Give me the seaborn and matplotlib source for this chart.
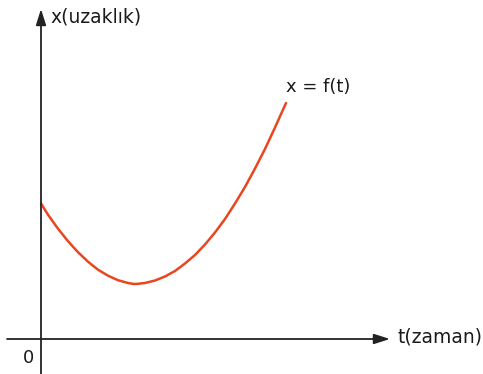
import matplotlib
matplotlib.use("Agg")
import matplotlib.pyplot as plt
import seaborn as sns
import pandas as pd

sns.set_style("white")
plt.rcParams["font.family"] = ["DejaVu Sans"]

# position-time samples along x = f(t)
t_values = [0, 0.7, 1.7, 2.7, 3.7, 4.7, 5.7, 6.7, 7.7, 8.7, 9.3, 9.7, 10.4, 11.4, 12.4,
            13.4, 14.4, 15.4, 16.4, 17.4, 18.4, 19.4, 20.4, 21.4, 22.4, 23.4, 24.5]
x_values = [13.55, 12.43, 11.03, 9.78, 8.68, 7.73, 6.93, 6.33, 5.88, 5.6, 5.5, 5.52, 5.6, 5.85, 6.25,
            6.8, 7.55, 8.4, 9.45, 10.65, 12.0, 13.55, 15.2, 17.05, 19.0, 21.15, 23.6]

y_label = "x(uzaklık)"
t_label = "t(zaman)"
curve_label = "x = f(t)"
origin_label = "0"

df = pd.DataFrame({"t": t_values, "x": x_values})

fig = plt.figure(figsize=(4.83, 3.74), dpi=100)
ax = fig.add_axes([0, 0, 1, 1])
ax.set_xlim(-4.1, 44.2)
ax.set_ylim(-3.5, 33.9)
ax.axis("off")

axis_color = "#222222"
arrow = dict(arrowstyle="-|>,head_length=1.2,head_width=0.38", color=axis_color,
             lw=1.3, mutation_scale=8, shrinkA=0, shrinkB=0)

# coordinate axes with arrow heads
ax.annotate("", xy=(0, 33.0), xytext=(0, -3.6), arrowprops=arrow)
ax.annotate("", xy=(34.9, 0), xytext=(-3.4, 0), arrowprops=arrow)

sns.lineplot(data=df, x="t", y="x", ax=ax, color="#e8461f", lw=1.8,
             solid_capstyle="round", solid_joinstyle="round", sort=False)

fs = 13.5
ax.text(0.9, 32.2, y_label, fontsize=fs, va="center", ha="left", color="#1a1a1a")
ax.text(24.5, 25.2, curve_label, fontsize=13, va="center", ha="left", color="#1a1a1a")
ax.text(35.6, 0.2, t_label, fontsize=fs, va="center", ha="left", color="#1a1a1a")
ax.text(-1.2, -1.9, origin_label, fontsize=13, va="center", ha="center", color="#1a1a1a")

fig.savefig("out.png", dpi=100)
